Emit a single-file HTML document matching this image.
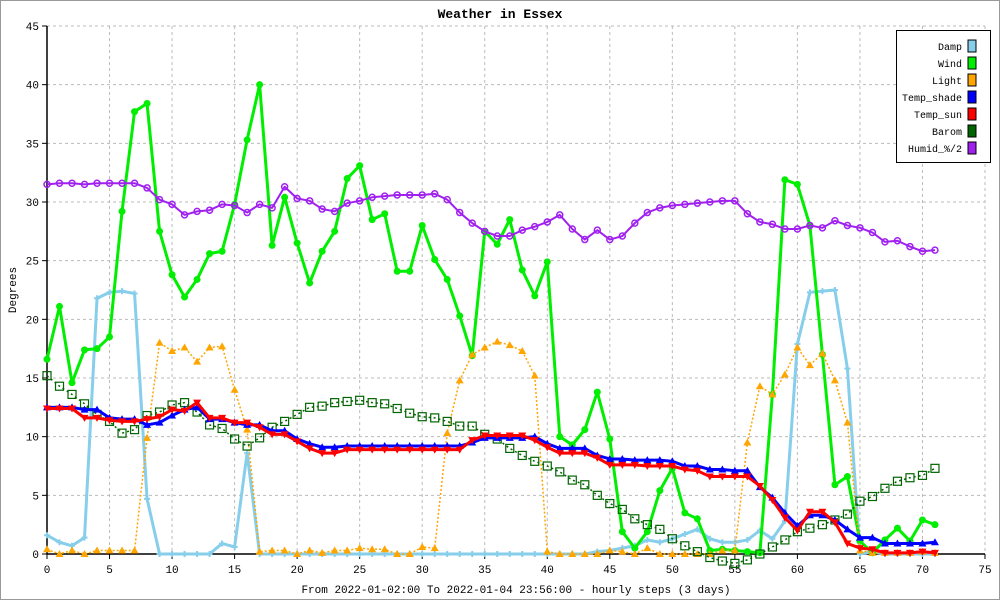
<!DOCTYPE html>
<html><head><meta charset="utf-8"><style>
body{margin:0;background:#fff}
svg{display:block;font-family:"Liberation Mono",monospace}
</style></head><body>
<svg id="c" width="1000" height="600">
<rect x="0.5" y="0.5" width="999" height="599" fill="#fff" stroke="#999"/>
<text x="500" y="18" text-anchor="middle" font-size="13" font-weight="bold">Weather in Essex</text>
<text x="16" y="290" text-anchor="middle" font-size="11" transform="rotate(-90 16 290)">Degrees</text>
<text x="516" y="593" text-anchor="middle" font-size="11">From 2022-01-02:00 To 2022-01-04 23:56:00 - hourly steps (3 days)</text>
<g id="grid"></g><g id="series"></g><g id="legend"></g>
</svg>
<script>
const xTicks=[0,5,10,15,20,25,30,35,40,45,50,55,60,65,70,75];
const yTicks=[0,5,10,15,20,25,30,35,40,45];
const damp=[1.6,1.0,0.7,1.4,21.8,22.3,22.4,22.2,4.7,0,0,0,0,0,0.9,0.6,8.6,0,0,0,0,0,0,0,0,0,0,0,0,0,0,0,0,0,0,0,0,0,0,0,0,0,0,0,0.2,0.3,0.5,0.7,1.2,1.0,1.3,1.7,2.1,1.3,1.0,1.0,1.2,2.0,1.3,2.8,17.9,22.3,22.4,22.5,15.8,0,0.2,0,0,0,0,0];
const wind=[16.6,21.1,14.6,17.4,17.5,18.5,29.2,37.7,38.4,27.5,23.8,21.9,23.4,25.6,25.8,29.8,35.3,40,26.3,30.4,26.5,23.1,25.8,27.5,32,33.1,28.5,29,24.1,24.1,28,25.1,23.4,20.3,16.9,27.5,26.4,28.5,24.2,22,24.9,10,9.3,10.6,13.8,9.8,1.9,0.5,1.9,5.4,7.3,3.5,3.0,0.3,0.4,0.3,0.2,0.1,13.6,31.9,31.5,28,17,5.9,6.6,1.1,0.1,1.2,2.2,1.1,2.9,2.5];
const light=[0.4,0,0.3,0,0.3,0.3,0.3,0.3,9.9,18.0,17.3,17.6,16.4,17.6,17.7,14.0,10.6,0.2,0.3,0.3,0,0.3,0.1,0.3,0.3,0.5,0.4,0.4,0,0,0.6,0.5,10.3,14.8,17.0,17.6,18.1,17.8,17.3,15.2,0.2,0,0,0,0,0.3,0.2,0,0.5,0,0,0,0,0,0.3,0.3,9.5,14.3,13.6,15.3,17.6,16.1,17.1,14.8,11.2,0.3,0.1,0.1,0.1,0.1,0.2,0.1];
const tempShade=[12.5,12.5,12.5,12.3,12.3,11.6,11.5,11.5,11,11.2,11.8,12.3,12.5,11.5,11.5,11.2,11.0,11.0,10.5,10.5,9.8,9.4,9.1,9.1,9.2,9.2,9.2,9.2,9.2,9.2,9.2,9.2,9.2,9.2,9.5,9.9,9.9,9.9,9.9,10.0,9.4,9.0,9.0,9.0,8.4,8.1,8.1,8.0,8.0,8.0,7.9,7.5,7.5,7.2,7.2,7.1,7.1,5.7,4.8,3.5,2.4,3.3,3.3,2.9,2.1,1.4,1.4,0.9,0.9,0.9,0.9,1.0];
const tempSun=[12.4,12.4,12.4,11.6,11.6,11.4,11.3,11.3,11.5,11.7,12.3,12.2,12.9,11.6,11.6,11.2,11.2,10.8,10.2,10.2,9.6,9.0,8.6,8.6,8.9,8.9,8.9,8.9,8.9,8.9,8.9,8.9,8.9,8.9,9.7,10.1,10.1,10.1,10.1,9.7,9.1,8.6,8.6,8.6,8.2,7.6,7.6,7.6,7.5,7.5,7.5,7.2,7.1,6.6,6.6,6.6,6.6,5.8,4.6,3.1,2.0,3.6,3.6,2.7,0.9,0.5,0.4,0.1,0.1,0.1,0.2,0.1];
const barom=[15.2,14.3,13.6,12.8,11.9,11.3,10.3,10.6,11.8,12.1,12.7,12.9,12.1,11.0,10.7,9.8,9.2,9.9,10.8,11.3,11.9,12.5,12.6,12.9,13.0,13.1,12.9,12.8,12.4,12.0,11.7,11.6,11.3,10.9,10.9,10.2,9.8,9.0,8.4,7.9,7.5,7.0,6.3,5.9,5.0,4.3,3.8,3.0,2.5,2.1,1.3,0.7,0.2,-0.3,-0.6,-0.8,-0.5,0.0,0.6,1.2,1.9,2.2,2.5,2.9,3.4,4.5,4.9,5.6,6.2,6.5,6.7,7.3];
const humid=[31.5,31.6,31.6,31.5,31.6,31.6,31.6,31.6,31.2,30.2,29.8,28.9,29.2,29.3,29.8,29.7,29.1,29.8,29.5,31.3,30.3,30.1,29.4,29.2,29.9,30.1,30.4,30.5,30.6,30.6,30.6,30.7,30.2,29.1,28.2,27.5,27.1,27.1,27.6,27.9,28.3,28.9,27.7,26.8,27.6,26.8,27.1,28.2,29.1,29.5,29.7,29.8,29.9,30.0,30.1,30.1,29.0,28.3,28.1,27.7,27.7,28.0,27.8,28.4,28.0,27.8,27.4,26.6,26.7,26.2,25.8,25.9];

const NS='http://www.w3.org/2000/svg';
const X0=47,X1=985,Y0=554,Y1=26;
function sx(v){return X0+(v-0)/(75-0)*(X1-X0);}
function sy(v){return Y0-(v-0)/(45-0)*(Y0-Y1);}
function mk(tag,attrs,parent){const e=document.createElementNS(NS,tag);for(const k in attrs)e.setAttribute(k,attrs[k]);parent.appendChild(e);return e;}
const grid=document.getElementById('grid'),ser=document.getElementById('series'),leg=document.getElementById('legend');
yTicks.forEach(t=>{
  const y=sy(t);
  if(t>0){const g=mk('line',{x1:X0,x2:X1,y1:y,y2:y,stroke:'#bbb','stroke-dasharray':'3,3'},grid);
  
  }
  const tk=mk('line',{x1:X0-5,x2:X0,y1:y,y2:y,stroke:'#000'},grid);
  
  
  const tx=mk('text',{x:X0-8,y:y+4,'text-anchor':'end','font-size':11},grid);tx.textContent=t;
  
  
});
xTicks.forEach(t=>{
  const x=sx(t);
  if(t>0){const g=mk('line',{x1:x,x2:x,y1:Y1,y2:Y0,stroke:'#bbb','stroke-dasharray':'3,3'},grid);
  
  }
  const tk=mk('line',{x1:x,x2:x,y1:Y0,y2:Y0+5,stroke:'#000'},grid);
  
  
  const tx=mk('text',{x:x,y:Y0+19,'text-anchor':'middle','font-size':11},grid);tx.textContent=t;
  
  
});
const ax=mk('path',{d:`M${X0},${Y1}V${Y0}H${X1}`,fill:'none',stroke:'#000','stroke-width':1.5},grid);



function marker(type,x,y,c,g){
  let e;
  if(type==='circle')e=mk('circle',{cx:x,cy:y,r:3.5,fill:c},g);
  else if(type==='up')e=mk('path',{d:`M${x},${y-4}L${x+4},${y+3}L${x-4},${y+3}Z`,fill:c},g);
  else if(type==='down')e=mk('path',{d:`M${x},${y+4}L${x+4},${y-3}L${x-4},${y-3}Z`,fill:c},g);
  else if(type==='square')e=mk('rect',{x:x-4,y:y-4,width:8,height:8,fill:'none',stroke:c,'stroke-width':1.2},g);
  else if(type==='cross')e=mk('path',{d:`M${x-3},${y}H${x+3}M${x},${y-3}V${y+3}`,stroke:c,'stroke-width':2},g);
  else e=mk('circle',{cx:x,cy:y,r:3,fill:'none',stroke:c,'stroke-width':1.5},g);
  return e;
}
const seriesDefs=[
 ['damp',damp,'#87ceeb',3,null,'cross'],
 ['wind',wind,'#00ee00',3,null,'circle'],
 ['light',light,'#ffa500',1.5,'2,2','up'],
 ['barom',barom,'#006400',1.5,'2,3','square'],
 ['temp-shade',tempShade,'#0000ff',3,null,'up'],
 ['temp-sun',tempSun,'#ff0000',3,null,'down'],
 ['humid',humid,'#a020f0',2,null,'ring'],
];
seriesDefs.forEach(([name,arr,c,w,dash,m])=>{
  const g=mk('g',{},ser);
  
  
  const d=arr.map((v,i)=>(i?'L':'M')+sx(i)+','+sy(v)).join('');
  const a={d:d,fill:'none',stroke:c,'stroke-width':w,'stroke-linejoin':'round'};if(dash)a['stroke-dasharray']=dash;
  const p=mk('path',a,g);
  
  
  arr.forEach((v,i)=>{const e=marker(m,sx(i),sy(v),c,g);
    
    });
});
const lb=mk('rect',{x:896.5,y:30.5,width:94,height:132,fill:'#fff',stroke:'#000'},leg);


const legNames=['Damp','Wind','Light','Temp_shade','Temp_sun','Barom','Humid_%/2'];
const legColors=['#87ceeb','#00ee00','#ffa500','#0000ff','#ff0000','#006400','#a020f0'];
legNames.forEach((n,i)=>{
  const y=46+i*17;
  const t=mk('text',{x:962,y:y+4,'text-anchor':'end','font-size':10},leg);t.textContent=n;
  
  
  const s=mk('rect',{x:968,y:y-6,width:8,height:12,fill:legColors[i],stroke:'#000'},leg);
  
  
});
</script>
</body></html>
